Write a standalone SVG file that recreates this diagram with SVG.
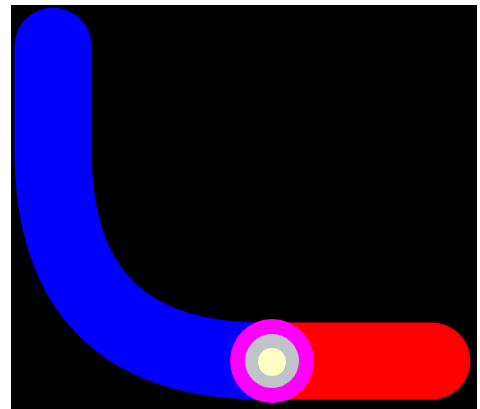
<svg xmlns="http://www.w3.org/2000/svg" width="480" height="409" viewBox="0 0 480 409">
  <style>
    .wire { fill: none; stroke-width: 77; stroke-linecap: round; }
  </style>
  <rect x="0" y="0" width="480" height="409" fill="#ffffff"/>
  <rect x="11" y="5" width="466" height="404" fill="#000000"/>
  <g id="connectors">
    <path id="blue-wire" class="wire" stroke="#0000ff" d="M53,46 V150 Q53,361 264,361 H270"/>
    <path id="red-wire" class="wire" stroke="#ff0000" d="M272,361 H432"/>
  </g>
  <g id="node-junction">
    <circle cx="272" cy="361" r="42" fill="#ff00ff"/>
    <circle cx="272" cy="361" r="27" fill="#c0c4c8"/>
    <circle cx="272" cy="362" r="14" fill="#ffffc4"/>
  </g>
</svg>
